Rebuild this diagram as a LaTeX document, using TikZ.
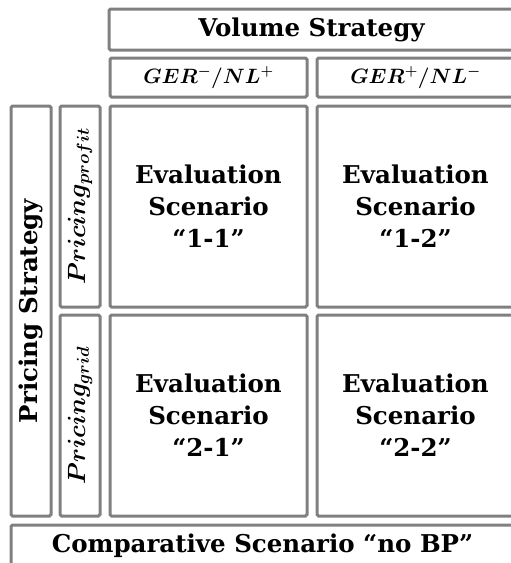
\documentclass[tikz,border=0pt]{standalone}
\usepackage{fontspec}
\usepackage{amsmath}
\usepackage{bm}
\setmainfont{DejaVu Serif}
\usepackage{tikz}

\begin{document}
\begin{tikzpicture}[x=1pt, y=-1pt,
    box/.style={draw=boxgray, line width=3pt, rounded corners=1.5pt, fill=white,
                inner sep=0pt, align=center, font=\fontsize{24.5}{32}\selectfont\bfseries},
    mathbox/.style={box, font=\fontsize{22}{26}\selectfont}]
        \definecolor{boxgray}{RGB}{128,128,128}
        % Fix the page size
        \useasboundingbox (0,0) rectangle (511,563);
        \clip (0,0) rectangle (511,563);

        % Volume strategy header
        \node[box, minimum width=405pt, minimum height=41pt] (vol) at (311.5,29.5) {Volume Strategy};
        \node[mathbox, minimum width=197pt, minimum height=39pt] (gerA) at (208.5,77.5) {$\bm{GER}^{\bm{-}}\bm{/NL}^{\bm{+}}$};
        \node[mathbox, minimum width=197pt, minimum height=39pt] (gerB) at (415.5,77.5) {$\bm{GER}^{\bm{+}}\bm{/NL}^{\bm{-}}$};

        % Pricing strategy column
        \node[box, minimum width=40pt, minimum height=410pt] (ps) at (31,311) {};
        \node[rotate=90, font=\fontsize{24.5}{32}\selectfont\bfseries] (pslabel) at (ps.center) {Pricing Strategy};
        \node[box, minimum width=40pt, minimum height=201pt] (pp) at (80,206.5) {};
        \node[rotate=90, font=\fontsize{25}{30}\selectfont] (pplabel) at (pp.center) {$\bm{Pricing}_{\bm{profit}}$};
        \node[box, minimum width=40pt, minimum height=201pt] (pg) at (80,415.5) {};
        \node[rotate=90, font=\fontsize{25}{30}\selectfont] (pglabel) at (pg.center) {$\bm{Pricing}_{\bm{grid}}$};

        % Evaluation scenarios
        \node[box, minimum width=197pt, minimum height=201pt] (c11) at (208.5,206.5) {Evaluation\\Scenario\\“1-1”};
        \node[box, minimum width=197pt, minimum height=201pt] (c12) at (415.5,206.5) {Evaluation\\Scenario\\“1-2”};
        \node[box, minimum width=197pt, minimum height=201pt] (c21) at (208.5,415.5) {Evaluation\\Scenario\\“2-1”};
        \node[box, minimum width=197pt, minimum height=201pt] (c22) at (415.5,415.5) {Evaluation\\Scenario\\“2-2”};

        % Comparative scenario
        \node[box, minimum width=503pt, minimum height=41pt] (comp) at (262.5,545.5) {Comparative Scenario “no BP”};
    \end{tikzpicture}
\end{document}
